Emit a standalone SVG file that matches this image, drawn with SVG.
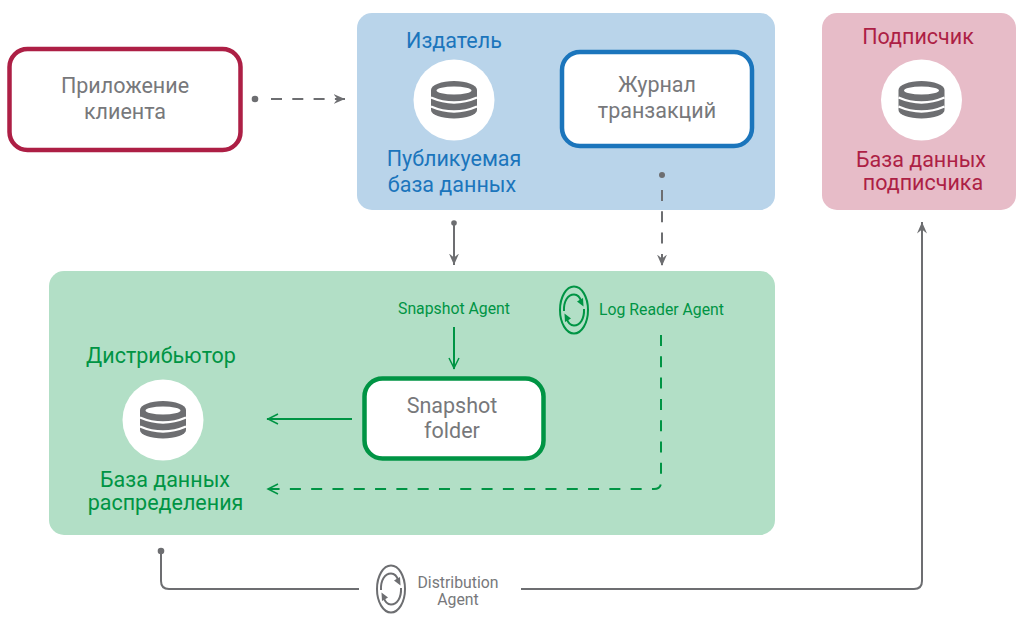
<svg xmlns="http://www.w3.org/2000/svg" width="1024" height="627" viewBox="0 0 1024 627">
<style>
text{font-family:Roboto,"Open Sans","Liberation Sans",sans-serif;text-anchor:middle}
.t20{font-size:21.5px}.t14{font-size:15.8px}
.gr{fill:#77787b}.bl{fill:#1b75bc}.rd{fill:#ad1f45}.gn{fill:#009444}
.box{fill:#fff;stroke-width:4.5}
.c{fill:none;stroke-width:2}
.g{stroke:#6d6e71}.v{stroke:#009444}
.d{stroke-dasharray:11 10.300}
</style>
<defs>
<marker id="ag" markerUnits="userSpaceOnUse" markerWidth="14" markerHeight="12" refX="11.500" refY="6" orient="auto"><path d="M0 1L11.500 6L0 11L4 6Z" fill="#6d6e71"/></marker>
<marker id="av" markerUnits="userSpaceOnUse" markerWidth="14" markerHeight="12" refX="12" refY="6" orient="auto"><path d="M1 1L11 6L1 11" fill="none" stroke="#009444" stroke-width="1.500"/></marker>
<g id="db">
<circle r="40.500" fill="#fff"/>
<path d="M-23-10A23 9 0 0 1 23-10V10A23 8.500 0 0 1-23 10Z" fill="#6d6e71"/>
<ellipse cy="-9.500" rx="17.500" ry="4" fill="#fff"/>
<path d="M-23-2.500Q0 7.500 23-2.500M-23 6.500Q0 16.500 23 6.500" fill="none" stroke="#fff" stroke-width="2.400"/>
</g>
<g id="cyc" fill="none" stroke="currentColor" stroke-width="2">
<ellipse rx="14" ry="23.500"/>
<path d="M-10 1C-10.500-9-6-15.500 0-15.500C3-15.500 6-13 7.500-8"/>
<path d="M10-1C10.500 9 6 15.500 0 15.500C-3 15.500-6 13-7.500 8"/>
<path d="M3-8.500L9-12L9.500-3.500Z" fill="currentColor" stroke="none"/>
<path d="M-3 8.500L-9 12L-9.500 3.500Z" fill="currentColor" stroke="none"/>
</g>
</defs>

<g id="publisher-panel"><rect x="357" y="13" width="418" height="197" rx="15" fill="#b9d4ea"/></g>
<g id="subscriber-panel"><rect x="822" y="13" width="194" height="197" rx="15" fill="#e7bcc8"/></g>
<g id="distributor-panel"><rect x="49" y="271" width="726" height="264" rx="15" fill="#b2dfc6"/></g>

<g id="connectors">
<circle cx="255" cy="99" r="3.300" fill="#6d6e71"/>
<path class="c g d" d="M271 99H345" marker-end="url(#ag)"/>
<circle cx="454" cy="223" r="2.800" fill="#6d6e71"/>
<path class="c g" d="M454 223V265" marker-end="url(#ag)"/>
<circle cx="662" cy="175" r="3" fill="#6d6e71"/>
<path class="c g d" d="M662 190V266" marker-end="url(#ag)"/>
<path class="c v" d="M454 327V369" marker-end="url(#av)"/>
<path class="c v" d="M352 419H267" marker-end="url(#av)"/>
<path class="c v d" d="M661 335V482Q661 489 654 489H267" marker-end="url(#av)"/>
<circle cx="161" cy="551" r="3.300" fill="#6d6e71"/>
<path class="c g" d="M161 551V581Q161 589 169 589H359"/>
<path class="c g" d="M521 589H914Q922 589 922 581V222" marker-end="url(#ag)"/>
</g>

<g id="client"><rect class="box" x="9.500" y="49" width="231" height="101" rx="18" stroke="#ad1f45"/>
<text class="t20 gr" x="125" y="93">Приложение</text><text class="t20 gr" x="125" y="119">клиента</text></g>

<g id="publisher"><text class="t20 bl" x="454" y="48">Издатель</text>
<use href="#db" x="454" y="100"/>
<text class="t20 bl" x="454" y="166">Публикуемая</text><text class="t20 bl" x="452" y="192">база данных</text></g>

<g id="log"><rect class="box" x="562" y="52" width="190" height="94" rx="18" stroke="#1b75bc"/>
<text class="t20 gr" x="657" y="92">Журнал</text><text class="t20 gr" x="657" y="118">транзакций</text></g>

<g id="subscriber"><text class="t20 rd" x="918" y="44">Подписчик</text>
<use href="#db" x="921.500" y="100"/>
<text class="t20 rd" x="921" y="167">База данных</text><text class="t20 rd" x="923" y="190">подписчика</text></g>

<g id="snapshot-agent"><text class="t14 gn" x="454" y="314">Snapshot Agent</text></g>
<g id="log-reader"><use href="#cyc" x="574" y="310" color="#009444"/><text class="t14 gn" x="661.500" y="315">Log Reader Agent</text></g>

<g id="distributor"><text class="t20 gn" x="161" y="363">Дистрибьютор</text>
<use href="#db" x="163" y="420"/>
<text class="t20 gn" x="165" y="487">База данных</text><text class="t20 gn" x="165.500" y="510">распределения</text></g>

<g id="snapshot-folder"><rect class="box" x="364.500" y="378.500" width="179" height="80" rx="18" stroke="#009444"/>
<text class="t20 gr" x="452" y="413">Snapshot</text><text class="t20 gr" x="452" y="438">folder</text></g>

<g id="distribution-agent"><use href="#cyc" x="391" y="589" color="#6d6e71"/>
<text class="t14 gr" x="458" y="588">Distribution</text><text class="t14 gr" x="458" y="605">Agent</text></g>
</svg>
